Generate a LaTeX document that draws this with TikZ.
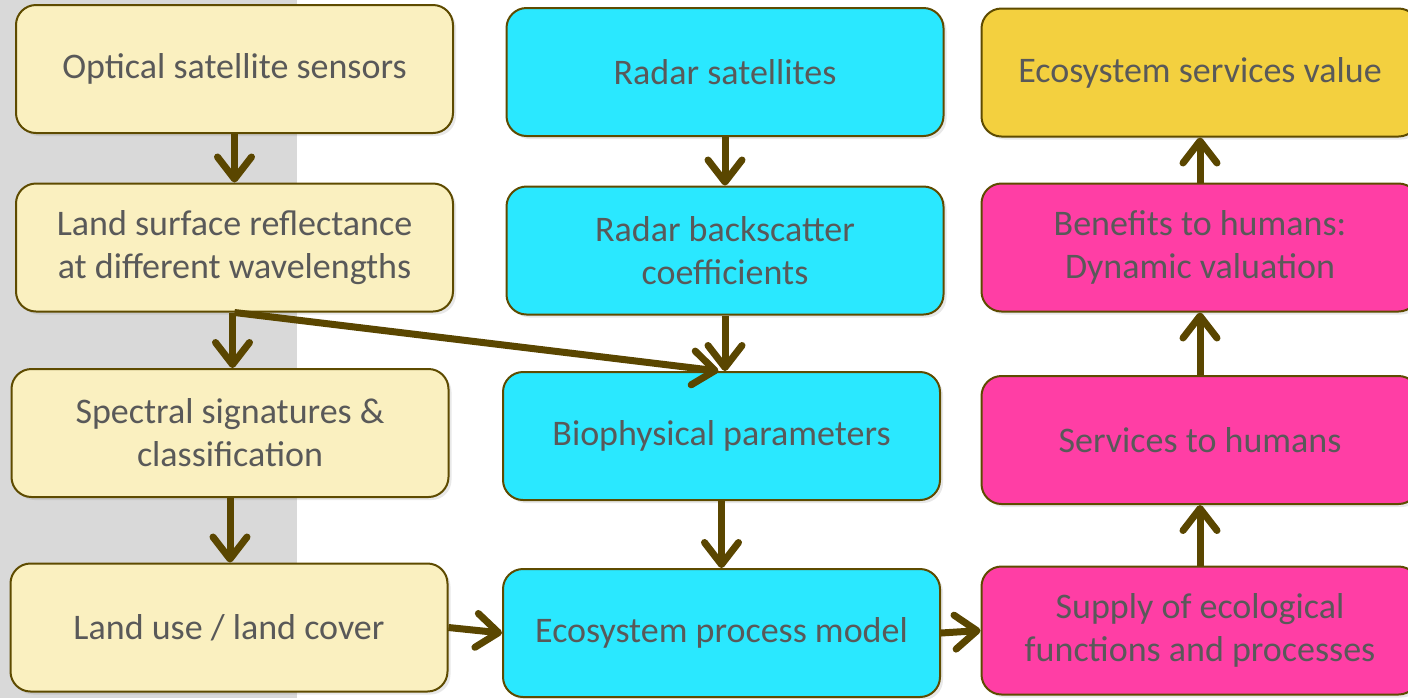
\documentclass[tikz,border=0pt]{standalone}
\usepackage{fontspec}
\setmainfont{Carlito}
\definecolor{stripgray}{RGB}{217, 217, 217}
\definecolor{optyellow}{RGB}{250, 240, 192}
\definecolor{radcyan}{RGB}{42, 232, 255}
\definecolor{valgold}{RGB}{243, 208, 63}
\definecolor{svcpink}{RGB}{255, 62, 165}
\definecolor{edgebrown}{RGB}{94, 75, 0}
\definecolor{arrowbrown}{RGB}{90, 70, 0}
\definecolor{labelgray}{RGB}{89, 89, 89}
\usetikzlibrary{arrows.meta, positioning, shadows}

\tikzset{
  stage/.style={draw=edgebrown, line width=1pt, rounded corners=10pt,
    minimum width=218.5pt, minimum height=64pt, align=center,
    text=labelgray, font=\fontsize{18}{21.5}\selectfont,
    drop shadow={opacity=0.18, shadow xshift=1.5pt, shadow yshift=-1.5pt}},
  optbox/.style={stage, fill=optyellow},
  radbox/.style={stage, fill=radcyan},
  svcbox/.style={stage, fill=svcpink},
  valbox/.style={stage, fill=valgold},
  flow/.style={draw=arrowbrown, line width=3.5pt,
    -{Straight Barb[length=11pt, width=17pt, round]}}
}

\begin{document}
\begin{tikzpicture}[x=0.5pt, y=-0.5pt]
  \clip (0,0) rectangle (1408,698);
  \fill[white] (0,0) rectangle (1408,698);
  \fill[stripgray] (0,0) rectangle (297,698);

  % Optical column
  \node[optbox] (opt) at (234.5, 69) {Optical satellite sensors};
  \node[optbox] (refl) at (234.5, 247.5) {Land surface reflectance\\at different wavelengths};
  \node[optbox] (spec) at (230, 433) {Spectral signatures \&\\classification};
  \node[optbox] (luc) at (229, 627.5) {Land use / land cover};

  % Radar column
  \node[radbox] (radar) at (725, 72) {Radar satellites};
  \node[radbox] (back) at (725, 250.5) {Radar backscatter\\coefficients};
  \node[radbox] (bio) at (721.5, 436) {Biophysical parameters};
  \node[radbox] (model) at (721.5, 633) {Ecosystem process model};

  % Services column
  \node[valbox] (value) at (1200, 72.5) {Ecosystem services value};
  \node[svcbox] (benefit) at (1200, 247.5) {Benefits to humans:\\Dynamic valuation};
  \node[svcbox] (service) at (1200, 440) {Services to humans};
  \node[svcbox] (supply) at (1200, 630.5) {Supply of ecological\\functions and processes};

  % Connectors
  \draw[flow] (opt.south) -- (refl.north);
  \draw[flow] ([xshift=-1pt]refl.south) -- ([xshift=-1pt]refl.south |- spec.north);
  \draw[flow] (spec.south) -- (spec.south |- luc.north);
  \draw[flow] (refl.south) -- ([xshift=-1.5pt]bio.north);
  \draw[flow] (radar.south) -- (back.north);
  \draw[flow] (back.south) -- (back.south |- bio.north);
  \draw[flow] (bio.south) -- (model.north);
  \draw[flow] (luc.east) -- (model.west);
  \draw[flow] (model.east) -- (supply.west);
  \draw[flow] (supply.north) -- (service.south);
  \draw[flow] (service.north) -- (benefit.south);
  \draw[flow] (benefit.north) -- (value.south);
\end{tikzpicture}
\end{document}
